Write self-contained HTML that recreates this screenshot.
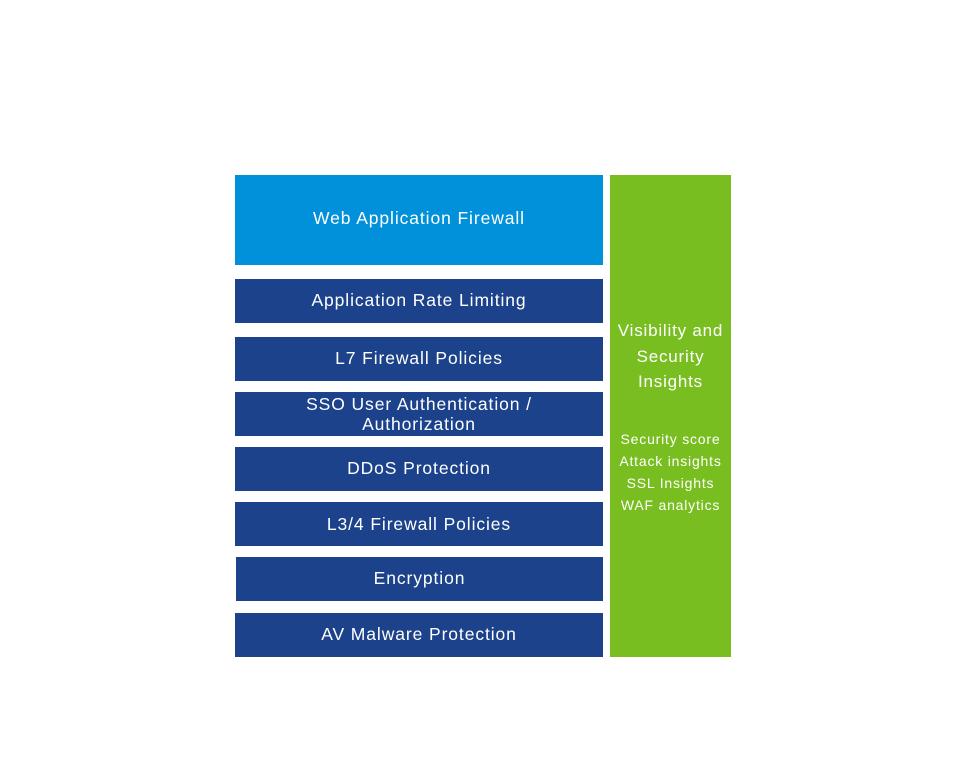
<!DOCTYPE html>
<html><head><style>
body{margin:0;width:969px;height:771px;background:#fff;position:relative;font-family:"Liberation Sans",sans-serif;color:#fff;overflow:hidden}
.b{position:absolute;left:235px;width:368px;background:#1b428a;display:flex;align-items:center;justify-content:center;text-align:center;font-size:17.5px;line-height:20px;letter-spacing:0.9px}
.g{position:absolute;left:610px;top:175px;width:121px;height:482px;background:#78be20;text-align:center;letter-spacing:0.8px}
</style></head><body>
<div class="b" style="top:175px;height:90px;background:#0091da;align-items:flex-start;padding-top:33px;box-sizing:border-box">Web Application Firewall</div>
<div class="b" style="top:279px;height:44px;padding-bottom:2px;box-sizing:border-box">Application Rate Limiting</div>
<div class="b" style="top:337px;height:44px;padding-bottom:2px;box-sizing:border-box">L7 Firewall Policies</div>
<div class="b" style="top:392px;height:44px">SSO User Authentication /<br>Authorization</div>
<div class="b" style="top:447px;height:44px;padding-bottom:2px;box-sizing:border-box">DDoS Protection</div>
<div class="b" style="top:502px;height:44px">L3/4 Firewall Policies</div>
<div class="b" style="top:557px;height:44px;left:236px;width:367px;padding-bottom:2px;box-sizing:border-box">Encryption</div>
<div class="b" style="top:613px;height:44px;padding-bottom:2px;box-sizing:border-box">AV Malware Protection</div>
<div class="g">
<div style="position:absolute;top:143px;width:100%;font-size:17px;line-height:25.5px">Visibility and<br>Security<br>Insights</div>
<div style="position:absolute;top:253px;width:100%;font-size:14px;line-height:22px">Security score<br>Attack insights<br>SSL Insights<br>WAF analytics</div>
</div>
</body></html>
